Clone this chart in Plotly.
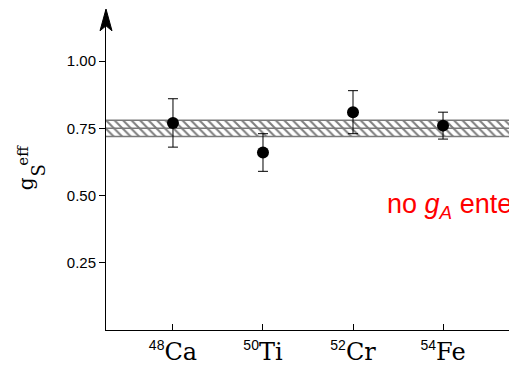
import plotly.graph_objects as go

# ---- data ----
nuclei_mass = ["48", "50", "52", "54"]
nuclei_symbol = ["Ca", "Ti", "Cr", "Fe"]
gs_eff = [0.77, 0.66, 0.81, 0.76]
gs_err_plus = [0.09, 0.07, 0.08, 0.05]
gs_err_minus = [0.09, 0.07, 0.08, 0.05]
band_low = 0.72
band_mid = 0.75
band_high = 0.78
y_tick_vals = [0.25, 0.50, 0.75, 1.00]
y_tick_text = ["0.25", "0.50", "0.75", "1.00"]
note_text = "no <i>g<sub>A</sub></i> enters"

W, H = 509, 366
ML, MR, MT, MB = 106, 0, 10, 33
PW, PH = W - ML - MR, H - MT - MB
x_range = [-0.744, 3.733]
y_range = [0, 1.19]

xs = list(range(len(nuclei_symbol)))
tick_text = [
    f"<sup><span style='font-family:Liberation Sans;font-size:14px'>{m}</span></sup>{s}"
    for m, s in zip(nuclei_mass, nuclei_symbol)
]

fig = go.Figure()

# hatched band
fig.add_trace(go.Scatter(x=x_range, y=[band_low, band_low], mode="lines",
                         line=dict(color="#7a7a7a", width=1.5), showlegend=False, hoverinfo="skip"))
fig.add_trace(go.Scatter(x=x_range, y=[band_high, band_high], mode="lines",
                         line=dict(color="#7a7a7a", width=1.5), fill="tonexty",
                         fillcolor="white",
                         fillpattern=dict(shape="\\", fgcolor="black", bgcolor="white",
                                          size=6, solidity=0.35),
                         showlegend=False, hoverinfo="skip"))
fig.add_trace(go.Scatter(x=x_range, y=[band_mid, band_mid], mode="lines",
                         line=dict(color="#7a7a7a", width=1.5), showlegend=False, hoverinfo="skip"))

# data points
fig.add_trace(go.Scatter(
    x=xs, y=gs_eff, mode="markers",
    marker=dict(color="black", size=12),
    error_y=dict(type="data", symmetric=False, array=gs_err_plus, arrayminus=gs_err_minus,
                 color="black", thickness=1, width=5),
    showlegend=False))

def px_to_paper(px, py):
    return (px - ML) / PW, (H - MB - py) / PH

annotations = []
# y-axis title pieces
for txt, (cx, cy), size in [("g", (26, 186), 20), ("S", (38, 172), 18), ("eff", (23, 157), 15)]:
    ax_, ay_ = px_to_paper(cx, cy)
    annotations.append(dict(text=txt, x=ax_, y=ay_, xref="paper", yref="paper",
                            showarrow=False, textangle=-90, xanchor="center", yanchor="middle",
                            font=dict(family="DejaVu Serif", size=size, color="black")))
# red note
annotations.append(dict(text=note_text, x=2.36, y=0.46, xref="x", yref="y",
                        showarrow=False, xanchor="left", yanchor="middle",
                        font=dict(family="Liberation Sans", size=27, color="red")))

# arrow head on y axis
tip = px_to_paper(106, 9)
left = px_to_paper(100, 31)
right = px_to_paper(112, 31)
notch = px_to_paper(106, 26)
arrow_path = (f"M {tip[0]},{tip[1]} L {left[0]},{left[1]} L {notch[0]},{notch[1]} "
              f"L {right[0]},{right[1]} Z")

fig.update_layout(
    width=W, height=H,
    margin=dict(l=ML, r=MR, t=MT, b=MB, pad=0),
    paper_bgcolor="white", plot_bgcolor="white",
    annotations=annotations,
    shapes=[dict(type="path", path=arrow_path, xref="paper", yref="paper",
                 fillcolor="black", line=dict(color="black", width=1), layer="above")],
    xaxis=dict(range=x_range, tickmode="array", tickvals=xs, ticktext=tick_text,
               showgrid=False, zeroline=False, showline=True, linecolor="black", linewidth=1,
               ticks="inside", ticklen=6, tickcolor="black",
               tickfont=dict(family="DejaVu Serif", size=24, color="black")),
    yaxis=dict(range=y_range, tickmode="array", tickvals=y_tick_vals, ticktext=y_tick_text,
               showgrid=False, zeroline=False, showline=True, linecolor="black", linewidth=1,
               ticks="outside", ticklen=6, tickcolor="black",
               tickfont=dict(family="Liberation Sans", size=15, color="black")),
)

fig.write_html("out.html")
